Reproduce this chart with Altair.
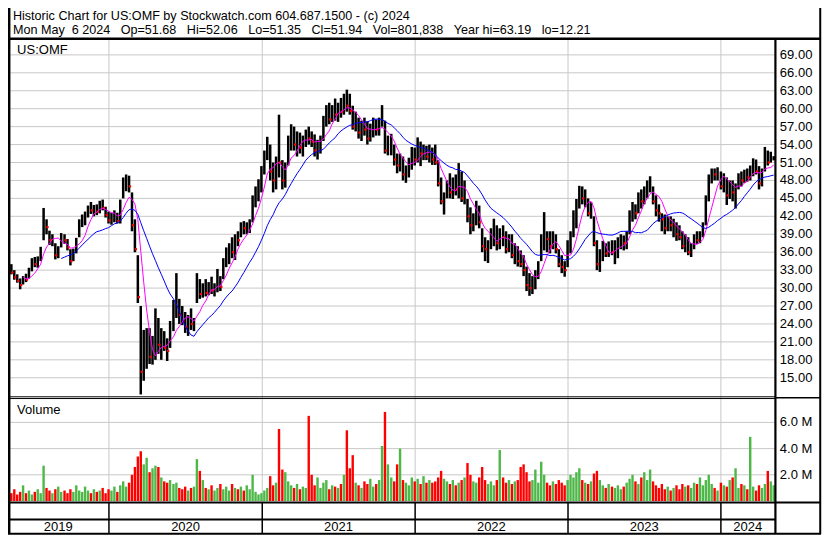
import altair as alt
import pandas as pd

# ---------------- data (weekly) ----------------
week_low = [
    32.8, 32.3, 31.4, 30.9, 29.8, 30.6, 31.0, 31.6, 32.8, 33.5,
    33.4, 34.5, 38.0, 39.0, 37.2, 37.0, 34.8, 35.0, 36.8, 37.4,
    36.3, 33.8, 34.5, 35.8, 38.5, 40.2, 40.5, 41.8, 42.4, 42.0,
    42.2, 42.5, 43.0, 41.8, 40.8, 40.6, 41.0, 40.8, 40.8, 45.0,
    46.2, 46.0, 39.5, 36.0, 27.5, 12.21, 14.5, 16.5, 17.3, 17.2,
    18.0, 19.0, 18.0, 19.5, 17.8, 20.0, 22.8, 25.0, 24.0, 23.8,
    22.5, 22.0, 23.0, 22.8, 27.5, 28.2, 28.4, 28.6, 28.8, 29.0,
    28.6, 29.3, 29.5, 31.5, 33.5, 34.0, 35.0, 34.7, 37.0, 38.5,
    39.0, 39.0, 39.2, 41.0, 43.5, 44.5, 46.0, 49.0, 51.4, 48.0,
    46.0, 46.5, 48.5, 46.5, 46.8, 50.5, 53.0, 53.0, 52.0, 52.5,
    52.0, 53.6, 54.0, 53.6, 52.0, 51.5, 52.5, 54.6, 57.0, 57.4,
    57.8, 58.0, 57.8, 58.5, 59.0, 59.5, 59.0, 56.5, 56.2, 55.0,
    54.6, 55.5, 54.0, 54.5, 55.2, 55.5, 55.5, 57.0, 52.5, 52.2,
    52.2, 50.5, 49.2, 49.5, 48.0, 47.6, 48.5, 49.8, 50.5, 51.0,
    50.4, 51.4, 51.4, 51.0, 50.6, 50.6, 47.0, 44.0, 42.3, 45.0,
    45.0, 44.9, 45.5, 45.0, 44.4, 44.0, 41.0, 39.0, 39.5, 40.5,
    40.0, 36.0, 34.5, 34.2, 36.5, 37.0, 36.3, 36.5, 37.0, 35.8,
    36.0, 35.0, 34.0, 33.6, 33.5, 32.0, 29.5, 28.7, 29.0, 29.8,
    31.5, 34.5, 36.3, 36.0, 35.8, 36.5, 35.8, 33.5, 32.5, 31.9,
    33.5, 35.8, 38.5, 40.0, 43.3, 44.0, 43.5, 42.0, 41.6, 37.0,
    33.0, 32.7, 34.5, 35.2, 35.2, 35.5, 34.0, 35.0, 36.5, 36.3,
    36.5, 39.0, 41.1, 41.5, 42.5, 43.3, 44.0, 45.0, 46.0, 44.0,
    42.0, 41.1, 39.5, 39.0, 39.5, 39.5, 38.5, 37.9, 38.0, 36.5,
    36.0, 35.5, 35.2, 36.5, 37.4, 37.5, 38.5, 40.5, 44.5, 47.5,
    48.0, 48.0, 46.5, 46.0, 43.9, 44.9, 44.5, 43.3, 46.5, 47.0,
    47.6, 47.8, 48.0, 48.7, 49.0, 46.5, 47.0, 49.5, 50.5, 51.0, 51.35,
]
week_high = [
    34.4, 34.0, 33.0, 32.3, 31.6, 32.0, 32.4, 33.4, 35.0, 35.2,
    35.3, 36.9, 43.4, 41.5, 39.6, 39.0, 37.5, 37.0, 39.2, 39.0,
    38.2, 36.5, 36.6, 38.4, 41.5, 42.3, 42.8, 43.8, 44.4, 43.9,
    44.0, 44.6, 44.8, 43.6, 42.8, 42.6, 43.0, 42.6, 44.8, 48.5,
    49.0, 48.8, 46.0, 41.5, 35.5, 27.0, 23.0, 23.3, 23.3, 22.0,
    26.6, 25.0, 23.3, 22.8, 21.6, 24.5, 28.0, 32.5, 28.2, 27.0,
    26.0, 25.5, 26.6, 25.0, 32.5, 31.5, 30.8, 31.5, 31.0, 31.9,
    30.8, 33.2, 32.0, 35.0, 36.8, 37.5, 38.5, 39.0, 39.5, 41.0,
    41.2, 41.0, 41.5, 45.5, 47.0, 48.2, 50.4, 53.0, 55.3, 54.0,
    51.0, 52.0, 59.0, 51.4, 51.0, 55.5, 57.4, 57.0, 56.2, 56.0,
    55.5, 56.5, 57.0, 56.2, 55.7, 54.8, 55.5, 58.8, 60.6, 61.0,
    60.6, 61.7, 61.0, 61.8, 62.5, 63.19, 62.5, 60.5, 59.5, 58.5,
    58.0, 58.5, 57.9, 57.5, 58.5, 58.2, 58.5, 60.6, 58.0, 55.5,
    55.8, 54.0, 52.5, 52.5, 52.0, 50.5, 51.8, 53.6, 53.5, 55.2,
    54.5, 54.0, 53.8, 54.0, 53.5, 54.0, 51.4, 48.5, 46.0, 48.0,
    49.2, 48.5, 49.0, 50.9, 49.5, 48.0, 44.9, 43.5, 42.5, 44.6,
    43.8, 40.0, 38.5, 38.0, 40.0, 41.6, 40.5, 40.0, 40.5, 39.5,
    39.0, 39.0, 37.5, 37.0, 36.3, 35.5, 33.6, 32.5, 32.0, 33.0,
    34.5, 39.0, 42.7, 39.5, 39.5, 39.5, 39.0, 36.5, 35.5, 34.5,
    38.0, 39.5, 43.0, 44.9, 47.1, 47.0, 46.5, 45.0, 44.4, 42.0,
    38.0, 36.5, 37.9, 37.5, 37.8, 38.0, 38.0, 38.5, 39.0, 38.8,
    39.5, 43.0, 44.4, 44.0, 46.0, 46.5, 47.0, 48.0, 48.7, 47.0,
    45.5, 44.0, 42.5, 42.3, 42.0, 42.0, 41.6, 41.0, 40.5, 39.5,
    39.0, 38.5, 37.5, 39.0, 39.5, 39.5, 41.0, 45.5, 49.0, 50.0,
    50.0, 50.2, 49.5, 49.2, 48.5, 48.0, 48.0, 47.5, 49.2, 49.5,
    49.8, 50.0, 50.5, 51.7, 51.5, 50.4, 50.0, 53.6, 53.0, 52.8, 52.06,
]
week_close = [
    33.5, 32.6, 31.8, 31.2, 30.5, 31.6, 31.4, 33.0, 34.5, 34.0,
    34.8, 36.2, 41.5, 40.2, 38.0, 38.4, 35.5, 36.6, 38.6, 38.0,
    36.8, 34.5, 36.0, 38.0, 41.0, 41.2, 42.2, 43.4, 43.0, 43.5,
    42.8, 44.0, 43.4, 42.2, 41.3, 41.8, 42.5, 41.2, 44.2, 47.8,
    48.4, 47.0, 40.5, 36.5, 28.5, 16.0, 17.5, 19.0, 18.5, 19.0,
    22.0, 20.5, 21.5, 20.0, 19.5, 23.5, 26.0, 27.0, 25.5, 24.5,
    23.5, 24.8, 24.0, 24.5, 30.5, 29.0, 29.8, 29.2, 30.2, 29.6,
    30.4, 32.5, 30.2, 34.5, 35.6, 36.5, 36.0, 38.5, 38.0, 40.2,
    40.0, 40.5, 40.8, 44.8, 46.5, 47.5, 49.8, 52.0, 54.0, 49.5,
    48.0, 51.5, 51.0, 48.0, 50.5, 54.5, 55.0, 54.0, 55.5, 53.5,
    54.8, 55.8, 55.0, 54.5, 53.0, 54.0, 55.0, 58.0, 59.5, 58.2,
    60.0, 59.0, 60.5, 59.5, 61.5, 60.5, 59.6, 57.0, 58.5, 56.0,
    57.0, 56.5, 55.0, 56.5, 57.8, 56.5, 57.5, 58.0, 53.0, 53.5,
    54.0, 51.5, 50.5, 51.8, 49.0, 50.0, 51.0, 52.8, 51.5, 54.0,
    52.5, 53.0, 52.0, 53.5, 51.5, 51.0, 47.5, 44.5, 45.5, 47.0,
    46.0, 48.0, 46.5, 49.0, 45.0, 46.5, 42.0, 40.5, 41.5, 43.5,
    41.0, 37.0, 36.5, 37.5, 38.5, 40.0, 37.5, 39.0, 38.5, 36.5,
    38.0, 35.5, 36.5, 34.5, 34.0, 33.0, 30.5, 30.0, 31.5, 32.5,
    34.0, 38.0, 38.5, 38.2, 37.0, 38.5, 36.5, 34.0, 33.5, 33.0,
    37.5, 38.5, 42.5, 44.0, 46.5, 45.0, 45.5, 42.5, 43.5, 37.5,
    34.0, 35.5, 36.5, 35.8, 37.0, 36.0, 36.5, 37.8, 38.0, 37.5,
    39.0, 42.5, 43.5, 42.5, 45.5, 44.5, 46.5, 47.5, 48.0, 44.5,
    43.0, 42.5, 41.5, 40.0, 41.0, 40.5, 40.5, 39.0, 38.5, 37.0,
    37.5, 36.0, 36.8, 38.5, 38.0, 39.0, 40.5, 45.0, 48.5, 49.5,
    49.0, 49.8, 47.0, 48.5, 45.5, 47.0, 46.0, 47.0, 48.5, 48.0,
    49.0, 48.5, 50.0, 51.0, 49.5, 47.5, 49.5, 52.0, 51.0, 51.5, 51.94,
]
# typical daily volume for each week, millions of shares
week_volume = [
    0.8, 0.6, 0.9, 0.5, 0.7, 1.2, 0.6, 0.8, 0.5, 0.7,
    0.9, 0.6, 2.7, 1.0, 0.8, 0.6, 0.9, 1.1, 0.7, 0.8,
    0.6, 0.9, 0.7, 1.2, 0.8, 0.7, 1.1, 0.8, 0.6, 0.9,
    0.7, 0.8, 1.0, 0.6, 0.9, 0.8, 1.1, 0.7, 1.2, 1.5,
    1.1, 1.4, 2.0, 2.6, 3.4, 3.8, 2.8, 3.3, 2.2, 2.5,
    2.7, 2.6, 1.8, 1.5, 1.4, 1.6, 1.3, 1.4, 1.0, 0.9,
    1.1, 0.8, 1.0, 1.1, 3.2, 2.3, 1.6, 1.0, 0.9, 1.2,
    0.8, 1.0, 1.3, 0.9, 1.1, 0.8, 1.3, 1.0, 0.9, 1.1,
    0.8, 1.2, 0.9, 2.0, 0.7, 0.5, 0.6, 0.8, 1.0, 1.9,
    1.2, 1.4, 5.5, 2.4, 2.2, 1.5, 1.2, 1.0, 1.3, 0.9,
    1.1, 1.0, 6.5, 2.0, 1.2, 1.8, 1.0, 1.4, 1.6, 0.9,
    1.2, 1.1, 1.0, 1.3, 2.0, 5.4, 2.5, 3.5, 1.4, 1.2,
    1.0, 1.5, 1.3, 1.7, 1.1, 1.3, 1.6, 4.2, 6.8, 2.8,
    1.8, 1.5, 2.8, 4.0, 1.6, 1.4, 1.2, 1.8, 1.5, 1.7,
    1.3, 1.9, 1.4, 1.6, 1.4, 1.5, 1.8, 2.3, 1.7, 1.5,
    1.3, 1.6, 1.2, 1.4, 1.6, 1.8, 2.9, 2.0, 1.5, 1.4,
    1.8, 2.6, 1.6, 1.3, 1.5, 1.2, 1.6, 3.9, 1.8, 1.4,
    1.6, 1.3, 1.5, 1.6, 2.6, 2.8, 2.2, 1.5, 1.6, 2.4,
    1.4, 3.0, 2.0, 1.4, 1.2, 1.5, 1.3, 1.6, 1.4, 1.2,
    1.6, 2.0, 1.8, 2.2, 2.5, 1.6, 1.4, 1.3, 1.5, 2.1,
    2.3, 1.6, 1.2, 1.0, 1.3, 1.1, 1.0, 1.2, 0.9, 1.1,
    1.4, 1.7, 2.0, 1.5, 1.3, 1.8, 2.2, 1.6, 2.4, 1.5,
    1.2, 1.0, 1.3, 0.9, 1.1, 0.8, 1.0, 1.2, 0.9, 1.3,
    1.1, 1.2, 1.0, 1.4, 1.3, 1.8, 1.2, 1.6, 2.0, 1.3,
    1.0, 0.8, 1.4, 1.2, 1.1, 1.6, 1.8, 2.5, 1.0, 1.3,
    1.2, 0.9, 4.9, 1.1, 0.8, 1.2, 1.0, 1.3, 2.3, 1.5, 1.2,
]

price_ticks = [15, 18, 21, 24, 27, 30, 33, 36, 39, 42, 45, 48, 51, 54, 57, 60, 63, 66, 69]
volume_ticks = [2, 4, 6]
volume_tick_labels = ["2.0 M", "4.0 M", "6.0 M"]
year_starts = ["2020-01-01", "2021-01-01", "2022-01-01", "2023-01-01", "2024-01-01"]
year_labels = ["2019", "2020", "2021", "2022", "2023", "2024"]

NB = "\u00a0"
header_1 = "Historic Chart for US:OMF by Stockwatch.com 604.687.1500 - (c) 2024"
header_2_parts = ["Mon May" + NB + NB + "6 2024", "Op=51.68", "Hi=52.06", "Lo=51.35",
                  "Cl=51.94", "Vol=801,838", "Year hi=63.19", "lo=12.21"]
header_2 = (NB * 3).join(header_2_parts)

# ---------------- tables ----------------
n = len(week_close)
start = pd.Timestamp("2019-05-06")
span_days = (pd.Timestamp("2024-05-06") - start).days
dates = [(start + pd.Timedelta(days=round(i * span_days / (n - 1)))).strftime("%Y-%m-%d") for i in range(n)]
prev = [week_close[0]] + week_close[:-1]
direction = ["up" if c >= p else "down" for c, p in zip(week_close, prev)]
price_df = pd.DataFrame({
    "date": dates, "low": week_low, "high": week_high, "close": week_close,
    "vol": week_volume, "dir": direction,
})
ptick_df = pd.DataFrame({"price": price_ticks, "label": [f"{p:.2f}" for p in price_ticks]})
vtick_df = pd.DataFrame({"vol": volume_ticks, "label": volume_tick_labels})
ystart_df = pd.DataFrame({"date": year_starts})

dom_start = pd.Timestamp("2019-05-05")
dom_end = pd.Timestamp("2024-05-09")
bounds = [dom_start] + [pd.Timestamp(d) for d in year_starts] + [dom_end]
mid_dates = [(bounds[i] + (bounds[i + 1] - bounds[i]) / 2).strftime("%Y-%m-%d") for i in range(len(year_labels))]
ylabel_df = pd.DataFrame({"date": mid_dates, "label": year_labels})

# ---------------- layout ----------------
W, H = 814, 527
SX, SY = W / 830, H / 543
def px(v): return round(v * SX, 2)
def py(v): return round(v * SY, 2)

FONT = "Liberation Sans"
FS = 13
GRID = "#c8c8c8"

xscale = alt.Scale(
    type="utc",
    domain=[alt.DateTime(year=2019, month=5, date=5, utc=True),
            alt.DateTime(year=2024, month=5, date=9, utc=True)],
    range=[px(0), px(782)],
)
pscale = alt.Scale(domain=[11.916, 71.646], range=[py(400), py(32)], zero=False, nice=False)
VZ, VPX = 508.0, 13.5
vscale = alt.Scale(domain=[0, 8], range=[py(VZ), py(VZ - 8 * VPX)], zero=False, nice=False)

X = alt.X("date:T", scale=xscale, axis=None)
one = pd.DataFrame({"k": [0]})

def hline(y, x1, x2, w, color="black"):
    return alt.Chart(one).mark_rule(color=color, strokeWidth=w).encode(
        x=alt.value(px(x1)), x2=alt.value(px(x2)), y=alt.value(py(y)))

def vline(x, y1, y2, w, color="black"):
    return alt.Chart(one).mark_rule(color=color, strokeWidth=w).encode(
        x=alt.value(px(x)), y=alt.value(py(y1)), y2=alt.value(py(y2)))

def label(txt, x, y, size=FS):
    return alt.Chart(one).mark_text(text=txt, font=FONT, fontSize=size, align="left",
                                    baseline="alphabetic", color="black").encode(
        x=alt.value(px(x)), y=alt.value(py(y)))

layers = []

# gridlines
layers.append(alt.Chart(ptick_df).mark_rule(color=GRID, strokeWidth=1).encode(
    y=alt.Y("price:Q", scale=pscale, axis=None), x=alt.value(px(2)), x2=alt.value(px(782))))
layers.append(alt.Chart(vtick_df).mark_rule(color=GRID, strokeWidth=1).encode(
    y=alt.Y("vol:Q", scale=vscale, axis=None), x=alt.value(px(2)), x2=alt.value(px(782))))
layers.append(alt.Chart(ystart_df).mark_rule(color=GRID, strokeWidth=1).encode(
    x=X, y=alt.value(py(32)), y2=alt.value(py(509))))

# volume bars
layers.append(alt.Chart(price_df).mark_rule(strokeWidth=2.4).encode(
    x=X, y=alt.Y("vol:Q", scale=vscale, axis=None), y2=alt.datum(0),
    color=alt.Color("dir:N", scale=alt.Scale(domain=["up", "down"], range=["#4db848", "#ff0000"]), legend=None)))

# price bars
layers.append(alt.Chart(price_df).mark_rule(color="black", strokeWidth=2.5).encode(
    x=X, y=alt.Y("low:Q", scale=pscale, axis=None), y2="high:Q"))
layers.append(alt.Chart(price_df).transform_filter("datum.dir == 'down'").mark_square(
    size=5, color="#ff0000", opacity=1, xOffset=1).encode(
    x=X, y=alt.Y("close:Q", scale=pscale, axis=None)))

# moving averages
layers.append(alt.Chart(price_df).transform_window(
    ma="mean(close)", cnt="count()", frame=[-5, 0], sort=[alt.SortField("date")]
).transform_filter("datum.cnt >= 6").mark_line(color="#ff00ff", strokeWidth=1).encode(
    x=X, y=alt.Y("ma:Q", scale=pscale, axis=None)))
layers.append(alt.Chart(price_df).transform_window(
    ma="mean(close)", cnt="count()", frame=[-18, 0], sort=[alt.SortField("date")]
).transform_filter("datum.cnt >= 19").mark_line(color="#0000ff", strokeWidth=1).encode(
    x=X, y=alt.Y("ma:Q", scale=pscale, axis=None)))

# axis labels
layers.append(alt.Chart(ptick_df).mark_text(font=FONT, fontSize=FS, align="left", baseline="middle", color="black").encode(
    y=alt.Y("price:Q", scale=pscale, axis=None), x=alt.value(px(787)), text="label:N"))
layers.append(alt.Chart(vtick_df).mark_text(font=FONT, fontSize=FS, align="left", baseline="middle", color="black").encode(
    y=alt.Y("vol:Q", scale=vscale, axis=None), x=alt.value(px(787)), text="label:N"))

# year band
layers.append(alt.Chart(ystart_df).mark_rule(color="black", strokeWidth=1.5).encode(
    x=X, y=alt.value(py(509)), y2=alt.value(py(541))))
layers.append(alt.Chart(ylabel_df).mark_text(font=FONT, fontSize=FS, align="center", baseline="middle", color="black").encode(
    x=X, y=alt.value(py(534.5)), text="label:N"))

# frame lines
layers += [
    hline(31.6, 0, 829, 2.5),
    vline(1.2, 0, 542, 2.5),
    vline(828.2, 0, 542, 2),
    vline(782.5, 31, 542, 2.2),
    hline(400.6, 0, 782.5, 1),
    hline(402.4, 0, 782.5, 1),
    hline(401.5, 782.5, 829, 1.5),
    hline(509.6, 0, 829, 2),
    hline(527.0, 0, 782.5, 2),
    hline(541.6, 0, 829, 2),
]

# texts
layers += [
    label(header_1, 5, 12.0, 12.6),
    label(header_2, 5, 27.0, 12.6),
    label("US:OMF", 9.3, 47.3),
    label("Volume", 9.3, 418.3),
]

chart = alt.layer(*layers).resolve_scale(y="independent").properties(
    width=W, height=H, padding=0, background="white",
    autosize=alt.AutoSizeParams(type="none"),
).configure_view(stroke=None)

chart.save("out.html", embed_options={"renderer": "svg", "actions": False})
